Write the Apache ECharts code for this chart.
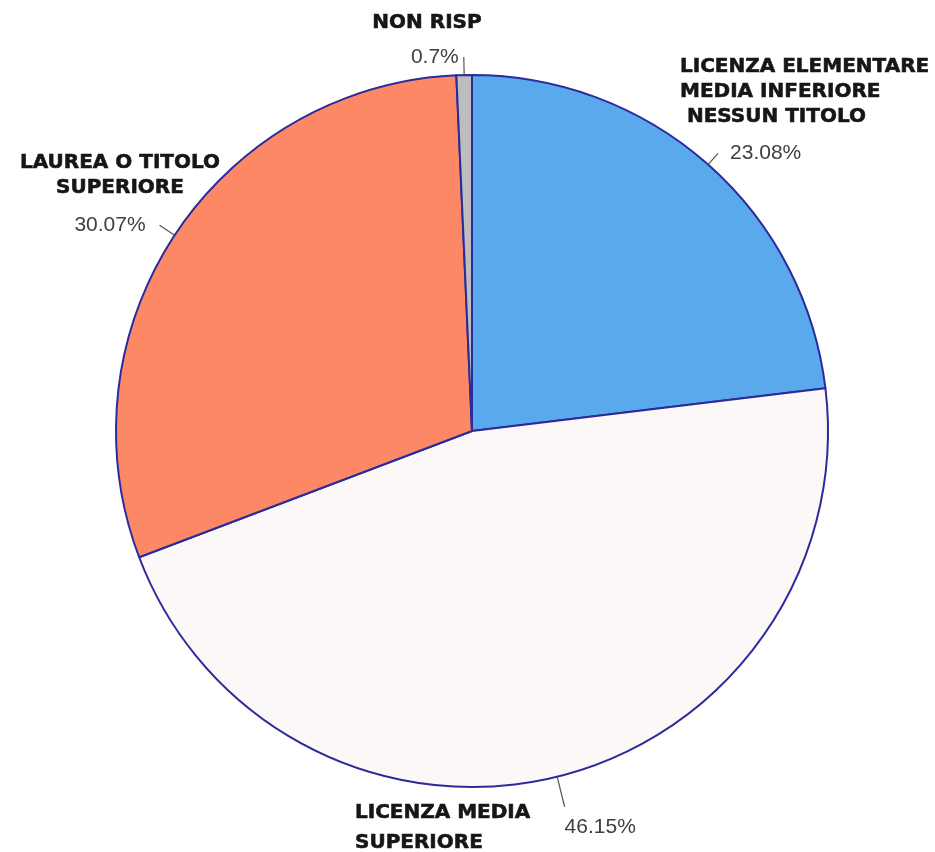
<!DOCTYPE html>
<html>
<head>
<meta charset="utf-8">
<script src="https://cdn.jsdelivr.net/npm/echarts@6/dist/echarts.min.js"></script>
<style>
  html, body { margin: 0; padding: 0; background: #ffffff; }
  #chart { width: 935px; height: 852px; }
</style>
</head>
<body>
<div id="chart"></div>
<script>
// Titolo di studio: share of respondents (percent), clockwise from 12 o'clock
const categories = [
  'LICENZA ELEMENTARE\nMEDIA INFERIORE\n NESSUN TITOLO',
  'LICENZA MEDIA\nSUPERIORE',
  'LAUREA O TITOLO\nSUPERIORE',
  'NON RISP'
];
const shares = [23.08, 46.15, 30.07, 0.7];
const sliceColors = ['#5aa9ec', '#fdf8f8', '#fd8865', '#bdbdbd'];

// per-slice placement of the percentage label and of the category name
const labelLineLen = [15, 31, 18, 18];
const labelGap = [12, 0, 14, 5];
const labelFormats = ['{c}%', '\n{c}%', '{c}%', '{c}%'];
const nameBlocks = [
  { x: 680, y: 54, align: 'left', lh: 25 },
  { x: 355, y: 798, align: 'left', lh: 30 },
  { x: 120, y: 150, align: 'center', lh: 25 },
  { x: 427, y: 10, align: 'center', lh: 25 }
];

const chart = echarts.init(document.getElementById('chart'), null, { renderer: 'canvas' });

const pieData = categories.map((name, i) => ({
  name: name,
  value: shares[i],
  itemStyle: { color: sliceColors[i] },
  label: { distanceToLabelLine: labelGap[i], formatter: labelFormats[i] },
  labelLine: { length: labelLineLen[i], length2: 0 }
}));

const nameGraphics = categories.map((name, i) => ({
  type: 'text',
  x: nameBlocks[i].x,
  y: nameBlocks[i].y,
  silent: true,
  style: {
    text: name,
    fill: '#161616',
    stroke: '#161616',
    lineWidth: 0.6,
    font: 'bold 20px "DejaVu Sans", sans-serif',
    lineHeight: nameBlocks[i].lh,
    align: nameBlocks[i].align,
    verticalAlign: 'top'
  }
}));

chart.setOption({
  backgroundColor: '#ffffff',
  animation: false,
  graphic: nameGraphics,
  series: [{
    type: 'pie',
    center: [472, 431],
    radius: 356,
    startAngle: 90,
    clockwise: true,
    avoidLabelOverlap: false,
    itemStyle: { borderColor: '#2b2b9c', borderWidth: 2 },
    emphasis: { disabled: true },
    label: {
      show: true,
      position: 'outside',
      color: '#404040',
      fontFamily: '"Liberation Sans", Arial, sans-serif',
      fontSize: 21,
      lineHeight: 40
    },
    labelLine: {
      show: true,
      smooth: false,
      lineStyle: { color: '#555555', width: 1.2 }
    },
    data: pieData
  }]
});
</script>
</body>
</html>
